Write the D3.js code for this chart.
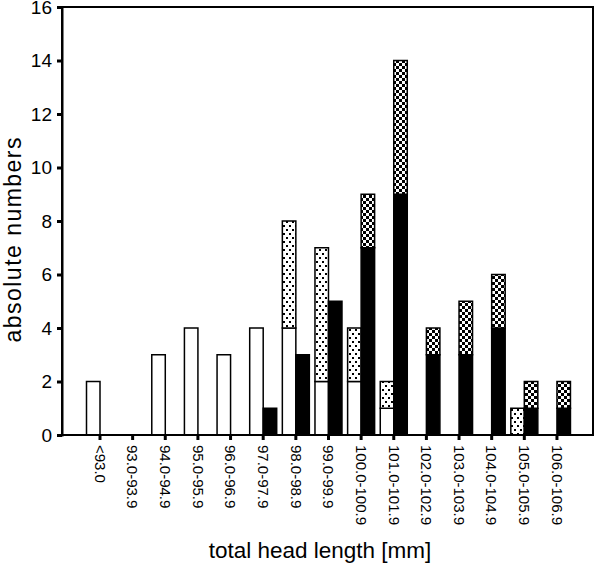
<!DOCTYPE html>
<html>
<head>
<meta charset="utf-8">
<script src="https://cdn.jsdelivr.net/npm/d3@7"></script>
<style>
  body { margin: 0; background: #fff; }
  svg { display: block; font-family: "Liberation Sans", Arial, sans-serif; }
</style>
</head>
<body>
<div id="chart"></div>
<script>
// Data
const categories = ['<93.0', '93.0-93.9', '94.0-94.9', '95.0-95.9', '96.0-96.9', '97.0-97.9',
  '98.0-98.9', '99.0-99.9', '100.0-100.9', '101.0-101.9', '102.0-102.9', '103.0-103.9',
  '104.0-104.9', '105.0-105.9', '106.0-106.9'];
// left bar: white + light dotted
const whiteVals = [2, 0, 3, 4, 3, 4, 4, 2, 2, 1, 0, 0, 0, 0, 0];
const lightVals = [0, 0, 0, 0, 0, 0, 4, 5, 2, 1, 0, 0, 0, 1, 0];
// right bar: black + dark checkered
const blackVals = [0, 0, 0, 0, 0, 1, 3, 5, 7, 9, 3, 3, 4, 1, 1];
const darkVals  = [0, 0, 0, 0, 0, 0, 0, 0, 2, 5, 1, 2, 2, 1, 1];
const yTicks = [0, 2, 4, 6, 8, 10, 12, 14, 16];

// Layout
const W = 595, H = 563;
const PLOT = { LEFT: 62, RIGHT: 593, TOP: 7, BOTTOM: 435 };
const STEP = 32.64;

const svg = d3.select('#chart').append('svg')
  .attr('width', W)
  .attr('height', H);

// Patterns
const defs = svg.append('defs');
const light = defs.append('pattern')
  .attr('id', 'light')
  .attr('patternUnits', 'userSpaceOnUse')
  .attr('width', 6).attr('height', 8);
light.append('rect').attr('width', 6).attr('height', 8).attr('fill', '#fff');
light.append('rect').attr('x', 1).attr('y', 1).attr('width', 2).attr('height', 2).attr('fill', '#000');
light.append('rect').attr('x', 4).attr('y', 5).attr('width', 2).attr('height', 2).attr('fill', '#000');

const dark = defs.append('pattern')
  .attr('id', 'dark')
  .attr('patternUnits', 'userSpaceOnUse')
  .attr('width', 6).attr('height', 6);
dark.append('rect').attr('width', 6).attr('height', 6).attr('fill', '#fff');
dark.append('rect').attr('width', 3).attr('height', 3).attr('fill', '#000');
dark.append('rect').attr('x', 3).attr('y', 3).attr('width', 3).attr('height', 3).attr('fill', '#000');

// Scales
const firstCenter = 100;
const x = d3.scaleBand()
  .domain(categories)
  .range([firstCenter - STEP / 2, firstCenter - STEP / 2 + STEP * categories.length])
  .padding(0);

const y = d3.scaleLinear()
  .domain([0, 16])
  .range([PLOT.BOTTOM, PLOT.TOP]);

const center = c => x(c) + x.bandwidth() / 2;

// Stacked data
const rows = categories.map((c, i) => ({
  cat: c, white: whiteVals[i], light: lightVals[i], black: blackVals[i], dark: darkVals[i]
}));
const leftStack = d3.stack().keys(['white', 'light'])(rows);
const rightStack = d3.stack().keys(['black', 'dark'])(rows);
const fills = { white: '#fff', light: 'url(#light)', black: '#000', dark: 'url(#dark)' };

const BAR_W = 13.5;

function drawStack(stack, offset) {
  stack.forEach(layer => {
    svg.append('g')
      .selectAll('rect')
      .data(layer.filter(d => d[1] - d[0] > 0))
      .enter()
      .append('rect')
      .attr('x', d => center(d.data.cat) + offset)
      .attr('y', d => y(d[1]))
      .attr('width', BAR_W)
      .attr('height', d => y(d[0]) - y(d[1]))
      .attr('fill', fills[layer.key])
      .attr('stroke', '#000')
      .attr('stroke-width', 1.5);
  });
}
drawStack(leftStack, -BAR_W);
drawStack(rightStack, 0);

// Frame
svg.append('rect')
  .attr('x', PLOT.LEFT)
  .attr('y', PLOT.TOP)
  .attr('width', PLOT.RIGHT - PLOT.LEFT)
  .attr('height', PLOT.BOTTOM - PLOT.TOP)
  .attr('fill', 'none')
  .attr('stroke', '#000')
  .attr('stroke-width', 2);

// Y axis
const yAxis = svg.append('g')
  .attr('transform', `translate(${PLOT.LEFT}, 0)`)
  .call(d3.axisLeft(y).tickValues(yTicks).tickSize(5).tickPadding(5));
yAxis.select('.domain').attr('stroke-width', 2);
yAxis.selectAll('.tick line').attr('stroke-width', 3);
yAxis.selectAll('.tick text')
  .attr('font-size', 19)
  .attr('fill', '#000')
  .attr('font-family', '"Liberation Sans", Arial, sans-serif');

// X axis
const xAxis = svg.append('g')
  .attr('transform', `translate(0, ${PLOT.BOTTOM})`)
  .call(d3.axisBottom(x).tickSize(5).tickPadding(10));
xAxis.select('.domain').remove();
xAxis.selectAll('.tick line').attr('stroke-width', 3);
xAxis.selectAll('.tick text')
  .attr('font-size', 15)
  .attr('fill', '#000')
  .attr('font-family', '"Liberation Sans", Arial, sans-serif')
  .attr('text-anchor', 'start')
  .attr('transform', 'rotate(90)')
  .attr('x', 10)
  .attr('y', 0)
  .attr('dy', '0.35em');

// Axis titles
svg.append('text')
  .attr('x', 320)
  .attr('y', 558)
  .attr('text-anchor', 'middle')
  .attr('font-size', 22.5)
  .text('total head length [mm]');

svg.append('text')
  .attr('transform', 'rotate(-90)')
  .attr('x', -240)
  .attr('y', 21)
  .attr('text-anchor', 'middle')
  .attr('font-size', 23)
  .attr('textLength', 205)
  .attr('lengthAdjust', 'spacing')
  .text('absolute numbers');
</script>
</body>
</html>
